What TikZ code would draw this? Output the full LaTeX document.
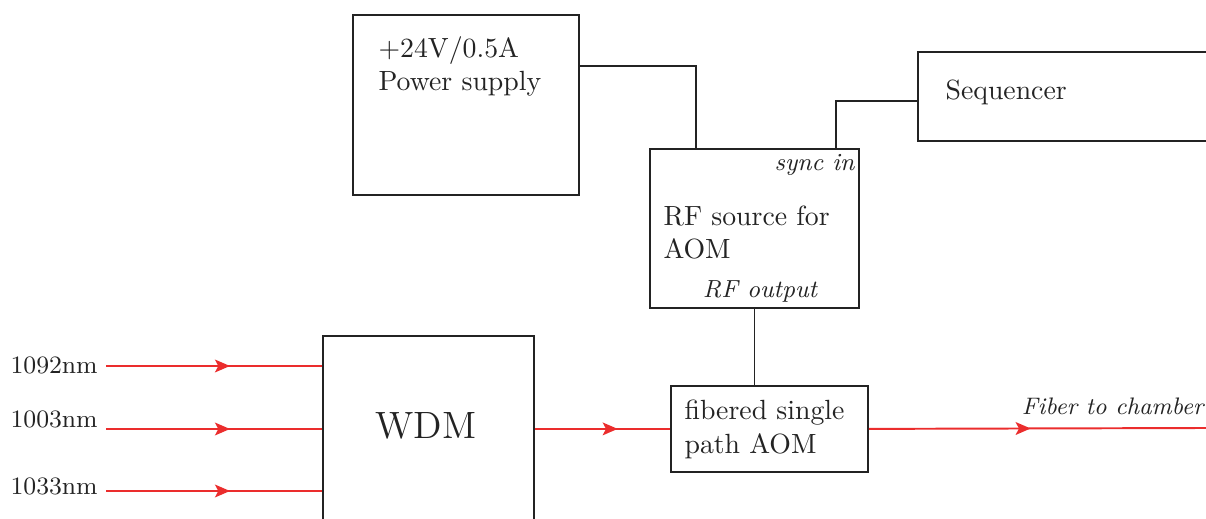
\documentclass[tikz,border=0pt]{standalone}
\usetikzlibrary{arrows.meta,decorations.markings,calc}
\definecolor{beamred}{RGB}{235,45,45}
\definecolor{inkblack}{RGB}{35,35,35}
\begin{document}
\begin{tikzpicture}[x=0.36pt,y=-0.36pt,
  box/.style={draw=inkblack,line width=0.65pt,anchor=north west,inner sep=0pt},
  wire/.style={draw=inkblack,line width=0.65pt},
  beam/.style={draw=beamred,line width=0.7pt},
  midarrow/.style={postaction={decorate},decoration={markings,
     mark=at position #1 with {\arrow[beamred]{Stealth[length=5.4pt,width=4.6pt,inset=1.2pt]}}}},
  txt/.style={inner sep=0pt,text=inkblack,font=\fontsize{10}{12}\selectfont},
  itxt/.style={inner sep=0pt,text=inkblack,font=\fontsize{8.9}{11}\selectfont\itshape},
  lbl/.style={inner sep=0pt,text=inkblack,font=\fontsize{9}{11}\selectfont}]
\useasboundingbox (0,0) rectangle (1206,519);
\clip (0,0) rectangle (1206,519);

% boxes
\node[box,minimum width=81.36pt,minimum height=64.8pt] (ps) at (352,14) {};
\node[box,minimum width=115.2pt,minimum height=32.04pt] (seq) at (917,51) {};
\node[box,minimum width=75.24pt,minimum height=57.24pt] (rf) at (649,148) {};
\node[box,minimum width=70.92pt,minimum height=30.96pt] (aom) at (670,385) {};
\node[box,minimum width=75.96pt,minimum height=72pt] (wdm) at (322,335) {};

% texts
\node[txt,anchor=base west] (ps1) at (378,58) {+24V/0.5A};
\node[txt,anchor=base west] (ps2) at (378,91) {Power supply};
\node[txt,anchor=base west] (seqt) at (945,100) {Sequencer};
\node[itxt,anchor=base east] (sync) at (855,171) {sync in};
\node[txt,anchor=base west] (rf1) at (663,226) {RF source for};
\node[txt,anchor=base west] (rf2) at (663,259) {AOM};
\node[itxt,anchor=base] (rfout) at (760,298) {RF output};
\node[txt,anchor=base west] (aom1) at (684,420) {fibered single};
\node[txt,anchor=base west] (aom2) at (684,454) {path AOM};
\node[txt,anchor=base,font=\fontsize{13.7}{16}\selectfont] (wdmt) at (426,439) {WDM};
\node[itxt,anchor=base east,font=\fontsize{8.6}{11}\selectfont\itshape] (fib) at (1204,415) {Fiber to chamber};
\node[lbl,anchor=base west] (l1) at (10,374) {1092nm};
\node[lbl,anchor=base west] (l2) at (10,428) {1003nm};
\node[lbl,anchor=base west] (l3) at (10,495) {1033nm};

% wires
\draw[wire] ([yshift=-18.72pt]ps.north east) -| ([xshift=16.92pt]rf.north west);
\draw[wire] ([yshift=-18pt]seq.north west) -| ([xshift=67.32pt]rf.north west);
\draw[wire] (rf.south) -- (rf.south |- aom.north);

% beams
\coordinate (in1) at (106,366);
\coordinate (in2) at (106,429);
\coordinate (in3) at (106,491);
\coordinate (out) at (1206,428);
\draw[beam,midarrow=0.574] (in1) -- (wdm.west |- in1);
\draw[beam,midarrow=0.574] (in2) -- (wdm.west |- in2);
\draw[beam,midarrow=0.574] (in3) -- (wdm.west |- in3);
\draw[beam,midarrow=0.613] (wdm.east |- aom.west) -- (aom.west);
\draw[beam,midarrow=0.48] (aom.east) -- (out);
\end{tikzpicture}
\end{document}
